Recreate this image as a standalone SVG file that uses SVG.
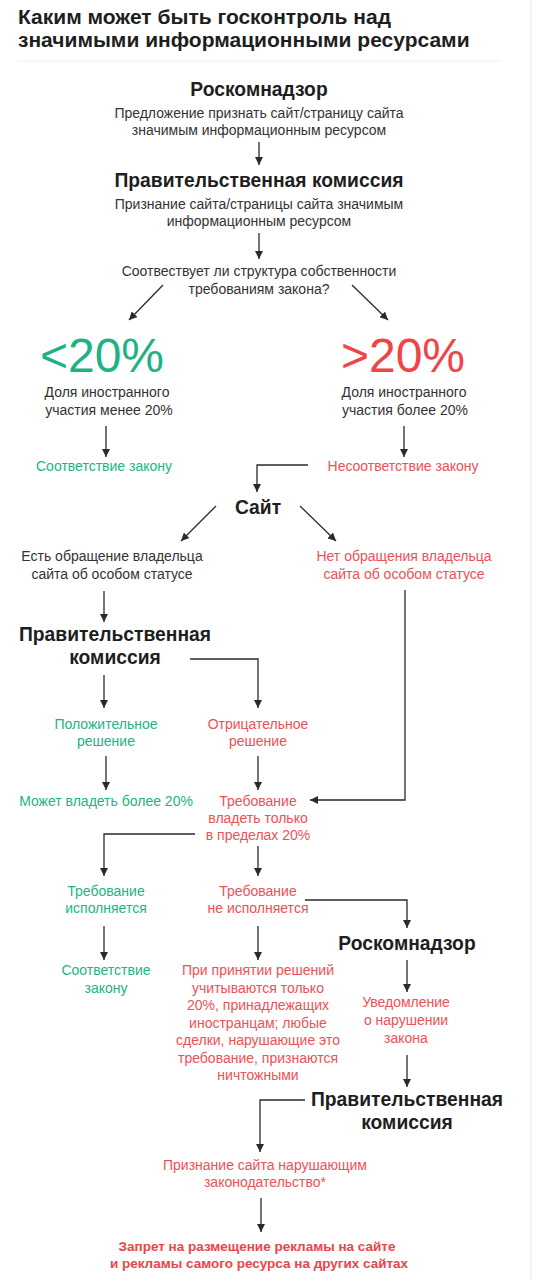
<svg xmlns="http://www.w3.org/2000/svg" width="539" height="1280" viewBox="0 0 539 1280">
<defs>
<marker id="ah" viewBox="0 0 10 10" refX="10" refY="5" markerWidth="8" markerHeight="8" markerUnits="userSpaceOnUse" orient="auto">
<path d="M0,0 L10,5 L0,10 z" fill="#2a2a2a"/>
</marker>
</defs>
<style>
text{font-family:"Liberation Sans",Arial,sans-serif;text-anchor:middle}
.title{font-size:21px;font-weight:bold;fill:#1e1e1e;text-anchor:start}
.h{font-size:19.3px;font-weight:bold;fill:#1e1e1e}
.t{font-size:14px;fill:#333}
.g{font-size:14px;fill:#22b389}
.r{font-size:14px;fill:#ef5056}
.rb{font-size:13.5px;font-weight:bold;fill:#ef4349}
.bigg{font-size:48px;fill:#1db385}
.bigr{font-size:48px;fill:#f04448}
.c{fill:none;stroke:#2a2a2a;stroke-width:1.3;marker-end:url(#ah)}
</style>
<rect width="539" height="1280" fill="#fff"/>
<line x1="531" y1="0" x2="531" y2="1280" stroke="#ececec" stroke-width="1.5"/>
<g id="title">
<text class="title" x="18" y="24">Каким может быть госконтроль над</text>
<text class="title" x="18" y="47">значимыми информационными ресурсами</text>
<line x1="18" y1="61" x2="500" y2="61" stroke="#eeeeee" stroke-width="1"/>
</g>
<g id="n1"><text class="h" x="259" y="96">Роскомнадзор</text>
<text class="t" x="259" y="118">Предложение признать сайт/страницу сайта</text>
<text class="t" x="259" y="135">значимым информационным ресурсом</text></g>
<g id="n2"><text class="h" x="259" y="187">Правительственная комиссия</text>
<text class="t" x="259" y="209">Признание сайта/страницы сайта значимым</text>
<text class="t" x="259" y="226">информационным ресурсом</text></g>
<g id="n3"><text class="t" x="259" y="276">Соотвествует ли структура собственности</text>
<text class="t" x="259" y="294">требованиям закона?</text></g>
<g id="n4"><text class="bigg" x="102" y="372">&lt;20%</text>
<text class="t" x="107" y="397">Доля иностранного</text>
<text class="t" x="109" y="415">участия менее 20%</text></g>
<g id="n5"><text class="bigr" x="403" y="372">&gt;20%</text>
<text class="t" x="404" y="397">Доля иностранного</text>
<text class="t" x="405" y="415">участия более 20%</text></g>
<g id="n6"><text class="g" x="104" y="471">Соответствие закону</text></g>
<g id="n7"><text class="r" x="403" y="471">Несоответствие закону</text></g>
<g id="n8"><text class="h" x="258" y="514">Сайт</text></g>
<g id="n9"><text class="t" x="112" y="561">Есть обращение владельца</text>
<text class="t" x="112" y="579">сайта об особом статусе</text></g>
<g id="n10"><text class="r" x="404" y="561">Нет обращения владельца</text>
<text class="r" x="404" y="579">сайта об особом статусе</text></g>
<g id="n11"><text class="h" x="115" y="641">Правительственная</text>
<text class="h" x="115" y="664">комиссия</text></g>
<g id="n12"><text class="g" x="106" y="729">Положительное</text>
<text class="g" x="106" y="746">решение</text></g>
<g id="n13"><text class="r" x="258" y="729">Отрицательное</text>
<text class="r" x="258" y="746">решение</text></g>
<g id="n14"><text class="g" x="106" y="806">Может владеть более 20%</text></g>
<g id="n15"><text class="r" x="258" y="806">Требование</text>
<text class="r" x="258" y="823">владеть только</text>
<text class="r" x="258" y="840">в пределах 20%</text></g>
<g id="n16"><text class="g" x="106" y="896">Требование</text>
<text class="g" x="106" y="913">исполняется</text></g>
<g id="n17"><text class="r" x="258" y="896">Требование</text>
<text class="r" x="258" y="913">не исполняется</text></g>
<g id="n18"><text class="g" x="106" y="975">Соответствие</text>
<text class="g" x="106" y="993">закону</text></g>
<g id="n19"><text class="h" x="407" y="950">Роскомнадзор</text></g>
<g id="n20"><text class="r" x="258" y="975">При принятии решений</text>
<text class="r" x="258" y="993">учитываются только</text>
<text class="r" x="258" y="1010">20%, принадлежащих</text>
<text class="r" x="258" y="1028">иностранцам; любые</text>
<text class="r" x="258" y="1045">сделки, нарушающие это</text>
<text class="r" x="258" y="1063">требование, признаются</text>
<text class="r" x="258" y="1080">ничтожными</text></g>
<g id="n21"><text class="r" x="406" y="1007">Уведомление</text>
<text class="r" x="406" y="1025">о нарушении</text>
<text class="r" x="406" y="1043">закона</text></g>
<g id="n22"><text class="h" x="407" y="1106">Правительственная</text>
<text class="h" x="407" y="1129">комиссия</text></g>
<g id="n23"><text class="r" x="265" y="1170">Признание сайта нарушающим</text>
<text class="r" x="265" y="1187">законодательство*</text></g>
<g id="n24"><text class="rb" x="257" y="1251">Запрет на размещение рекламы на сайте</text>
<text class="rb" x="259" y="1268">и рекламы самого ресурса на других сайтах</text></g>
<g id="connectors">
<path class="c" d="M259,142 V165"/>
<path class="c" d="M259,233 V259"/>
<path class="c" d="M163,285 L129,320"/>
<path class="c" d="M352,285 L388,320"/>
<path class="c" d="M106,426 V457"/>
<path class="c" d="M404,426 V457"/>
<path class="c" d="M308,465 H257 V492"/>
<path class="c" d="M216,506 L181,541"/>
<path class="c" d="M300,506 L336,541"/>
<path class="c" d="M104,591 V622"/>
<path class="c" d="M405,590 V800 H310"/>
<path class="c" d="M190,659 H258 V708"/>
<path class="c" d="M104,675 V708"/>
<path class="c" d="M106,756 V790"/>
<path class="c" d="M258,756 V790"/>
<path class="c" d="M195,834 H104 V876"/>
<path class="c" d="M258,846 V876"/>
<path class="c" d="M305,900 H407 V928"/>
<path class="c" d="M104,926 V960"/>
<path class="c" d="M258,926 V960"/>
<path class="c" d="M407,960 V992"/>
<path class="c" d="M407,1055 V1087"/>
<path class="c" d="M305,1100 H260 V1152"/>
<path class="c" d="M261,1198 V1232"/>
</g>
</svg>
